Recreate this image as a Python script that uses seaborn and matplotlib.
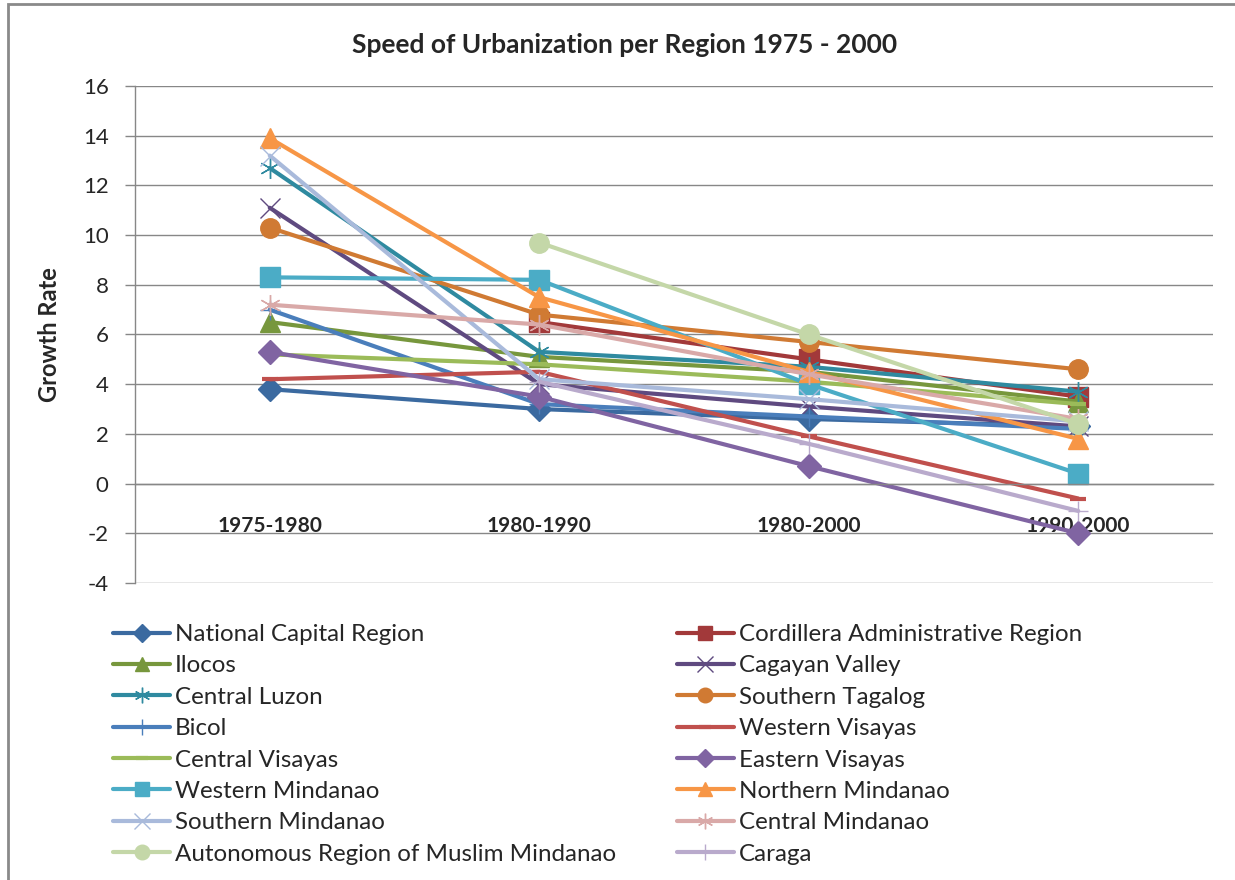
import numpy as np
import pandas as pd
import seaborn as sns
import matplotlib
matplotlib.use("Agg")
import matplotlib.pyplot as plt
from matplotlib.patches import Rectangle
from matplotlib.ticker import FixedLocator

nan = np.nan

periods = ["1975-1980", "1980-1990", "1980-2000", "1990-2000"]
regions = [
    "National Capital Region", "Cordillera Administrative Region",
    "Ilocos", "Cagayan Valley",
    "Central Luzon", "Southern Tagalog",
    "Bicol", "Western Visayas",
    "Central Visayas", "Eastern Visayas",
    "Western Mindanao", "Northern Mindanao",
    "Southern Mindanao", "Central Mindanao",
    "Autonomous Region of Muslim Mindanao", "Caraga",
]

ncr = [3.8, 3.0, 2.6, 2.3]
car = [nan, 6.5, 5.0, 3.5]
ilocos = [6.5, 5.1, 4.5, 3.3]
cagayan = [11.1, 4.0, 3.1, 2.3]
central_luzon = [12.7, 5.3, 4.7, 3.7]
southern_tagalog = [10.3, 6.8, 5.7, 4.6]
bicol = [7.0, 3.2, 2.7, 2.2]
western_visayas = [4.2, 4.5, 1.9, -0.6]
central_visayas = [5.2, 4.8, 4.1, 3.2]
eastern_visayas = [5.3, 3.5, 0.7, -2.0]
western_mindanao = [8.3, 8.2, 4.0, 0.4]
northern_mindanao = [13.9, 7.5, 4.5, 1.8]
southern_mindanao = [13.2, 4.2, 3.4, 2.5]
central_mindanao = [7.2, 6.4, 4.4, 2.6]
armm = [nan, 9.7, 6.0, 2.4]
caraga = [nan, 4.1, 1.6, -1.1]

series = [ncr, car, ilocos, cagayan, central_luzon, southern_tagalog, bicol,
          western_visayas, central_visayas, eastern_visayas, western_mindanao,
          northern_mindanao, southern_mindanao, central_mindanao, armm, caraga]

colors = ["#3B6AA0", "#A2393A", "#77973D", "#5F4A80", "#2F8AA0", "#D07A33",
          "#4A7EBB", "#C0504D", "#9BBB59", "#8064A2", "#4BACC6", "#F79646",
          "#A9BADB", "#D9A9A8", "#C4D7A8", "#B9AACC"]
ast = (6, 2, 0)
markers = ["D", "s", "^", "x", ast, "o", "+", "_", "_", "D", "s", "^",
           "x", ast, "o", "+"]

sns.set_style("white")
plt.rcParams["font.family"] = ["Lato", "DejaVu Sans"]
plt.rcParams["axes.unicode_minus"] = False

fig = plt.figure(figsize=(12.35, 8.8), dpi=100)
ax = fig.add_axes([135/1235, 1-583/880, (1213-135)/1235, (583-86)/880])

x = np.arange(len(periods))
for name, vals, col, mk in zip(regions, series, colors, markers):
    df = pd.DataFrame({"x": x, "y": vals}).dropna()
    thin = mk in ("x", "+", ast)
    if mk == "_":
        ms, mew = 12, 3
    elif thin:
        ms, mew = 15, 1.0
    elif mk == "D":
        ms, mew = 12, 1
    else:
        ms, mew = 14, 1
    sns.lineplot(data=df, x="x", y="y", ax=ax, color=col, linewidth=3,
                 marker=mk, markersize=ms, markeredgewidth=mew,
                 markeredgecolor=col, markerfacecolor=col, label=name,
                 legend=False, clip_on=False)

# spines first (set_position resets tick objects)
for s in ["top", "right"]:
    ax.spines[s].set_visible(False)
ax.spines["left"].set_color("#878787")
ax.spines["left"].set_linewidth(1)
ax.spines["bottom"].set_position(("data", 0))
ax.spines["bottom"].set_color("#878787")
ax.spines["bottom"].set_linewidth(1)

ax.set_xlim(-0.5, 3.5)
ax.set_ylim(-4, 16)
ax.set_yticks(np.arange(-4, 17, 2))
ax.set_xticks(x)
ax.xaxis.set_minor_locator(FixedLocator([0.5, 1.5, 2.5, 3.5]))
ax.tick_params(axis="x", which="major", length=0, pad=23, labelsize=15)
ax.tick_params(axis="x", which="minor", length=5, width=1, color="#878787",
               direction="out")
ax.tick_params(axis="y", length=7, width=1, color="#878787", pad=12,
               labelsize=16, left=True)
ax.set_xticklabels(periods, fontsize=15, fontweight="bold")
ax.set_xlabel("")
ax.set_ylabel("Growth Rate", fontsize=17, fontweight="bold")
ax.yaxis.set_label_coords(-0.069, 0.5)

ax.yaxis.grid(True, color="#878787", linewidth=1)
ax.xaxis.grid(False)
ax.set_axisbelow(True)

fig.text(625/1235, 1-45/880, "Speed of Urbanization per Region 1975 - 2000",
         ha="center", va="center", fontsize=19, fontweight="bold")

handles, labels = ax.get_legend_handles_labels()
order = list(range(0, 16, 2)) + list(range(1, 16, 2))
fs = 17.4
fpx = fs * 100 / 72
fig.legend([handles[i] for i in order], [labels[i] for i in order],
           loc="upper left", bbox_to_anchor=(113/1235, 1-624/880), ncol=2,
           frameon=False, fontsize=fs, borderpad=0, borderaxespad=0,
           handlelength=57/fpx, handletextpad=5/fpx,
           labelspacing=0.43, columnspacing=2.5, markerscale=0.75)

fig.patches.append(Rectangle((8/1235, -0.1), 1.2, 1-4/880+0.1,
                             transform=fig.transFigure, fill=False,
                             edgecolor="#8A8A8A", linewidth=2))

fig.savefig("out.png", dpi=100, facecolor="white")
